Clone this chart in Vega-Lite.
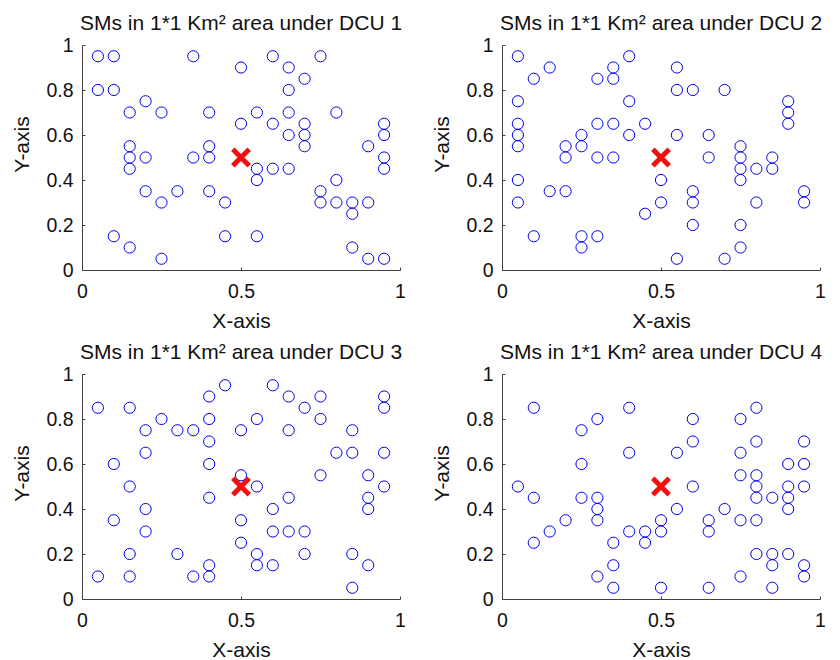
{
  "$schema": "https://vega.github.io/schema/vega-lite/v6.json",
  "background": "white",
  "padding": {"left": 11, "top": 13, "right": 5, "bottom": 0},
  "bounds": "flush",
  "columns": 2,
  "spacing": {"row": 104, "column": 102},
  "datasets": {
    "dcu": [{"dcu": 1, "x": 0.5, "y": 0.5}, {"dcu": 2, "x": 0.5, "y": 0.5}, {"dcu": 3, "x": 0.5, "y": 0.5}, {"dcu": 4, "x": 0.5, "y": 0.5}],
    "sm": [
      {"dcu":1,"x":0.05,"y":0.95},{"dcu":1,"x":0.1,"y":0.95},{"dcu":1,"x":0.35,"y":0.95},{"dcu":1,"x":0.6,"y":0.95},{"dcu":1,"x":0.75,"y":0.95},
      {"dcu":1,"x":0.5,"y":0.9},{"dcu":1,"x":0.65,"y":0.9},
      {"dcu":1,"x":0.7,"y":0.85},
      {"dcu":1,"x":0.05,"y":0.8},{"dcu":1,"x":0.1,"y":0.8},{"dcu":1,"x":0.65,"y":0.8},
      {"dcu":1,"x":0.2,"y":0.75},
      {"dcu":1,"x":0.15,"y":0.7},{"dcu":1,"x":0.25,"y":0.7},{"dcu":1,"x":0.4,"y":0.7},{"dcu":1,"x":0.55,"y":0.7},{"dcu":1,"x":0.65,"y":0.7},{"dcu":1,"x":0.8,"y":0.7},
      {"dcu":1,"x":0.5,"y":0.65},{"dcu":1,"x":0.6,"y":0.65},{"dcu":1,"x":0.7,"y":0.65},{"dcu":1,"x":0.95,"y":0.65},
      {"dcu":1,"x":0.65,"y":0.6},{"dcu":1,"x":0.7,"y":0.6},{"dcu":1,"x":0.95,"y":0.6},
      {"dcu":1,"x":0.15,"y":0.55},{"dcu":1,"x":0.4,"y":0.55},{"dcu":1,"x":0.7,"y":0.55},{"dcu":1,"x":0.9,"y":0.55},
      {"dcu":1,"x":0.15,"y":0.5},{"dcu":1,"x":0.2,"y":0.5},{"dcu":1,"x":0.35,"y":0.5},{"dcu":1,"x":0.4,"y":0.5},{"dcu":1,"x":0.95,"y":0.5},
      {"dcu":1,"x":0.15,"y":0.45},{"dcu":1,"x":0.55,"y":0.45},{"dcu":1,"x":0.6,"y":0.45},{"dcu":1,"x":0.65,"y":0.45},{"dcu":1,"x":0.95,"y":0.45},
      {"dcu":1,"x":0.55,"y":0.4},{"dcu":1,"x":0.8,"y":0.4},
      {"dcu":1,"x":0.2,"y":0.35},{"dcu":1,"x":0.3,"y":0.35},{"dcu":1,"x":0.4,"y":0.35},{"dcu":1,"x":0.75,"y":0.35},
      {"dcu":1,"x":0.25,"y":0.3},{"dcu":1,"x":0.45,"y":0.3},{"dcu":1,"x":0.75,"y":0.3},{"dcu":1,"x":0.8,"y":0.3},{"dcu":1,"x":0.85,"y":0.3},{"dcu":1,"x":0.9,"y":0.3},
      {"dcu":1,"x":0.85,"y":0.25},
      {"dcu":1,"x":0.1,"y":0.15},{"dcu":1,"x":0.45,"y":0.15},{"dcu":1,"x":0.55,"y":0.15},
      {"dcu":1,"x":0.15,"y":0.1},{"dcu":1,"x":0.85,"y":0.1},
      {"dcu":1,"x":0.25,"y":0.05},{"dcu":1,"x":0.9,"y":0.05},{"dcu":1,"x":0.95,"y":0.05},

      {"dcu":2,"x":0.05,"y":0.95},{"dcu":2,"x":0.4,"y":0.95},
      {"dcu":2,"x":0.15,"y":0.9},{"dcu":2,"x":0.35,"y":0.9},{"dcu":2,"x":0.55,"y":0.9},
      {"dcu":2,"x":0.1,"y":0.85},{"dcu":2,"x":0.3,"y":0.85},{"dcu":2,"x":0.35,"y":0.85},
      {"dcu":2,"x":0.55,"y":0.8},{"dcu":2,"x":0.6,"y":0.8},{"dcu":2,"x":0.7,"y":0.8},
      {"dcu":2,"x":0.05,"y":0.75},{"dcu":2,"x":0.4,"y":0.75},{"dcu":2,"x":0.9,"y":0.75},
      {"dcu":2,"x":0.9,"y":0.7},
      {"dcu":2,"x":0.05,"y":0.65},{"dcu":2,"x":0.3,"y":0.65},{"dcu":2,"x":0.35,"y":0.65},{"dcu":2,"x":0.45,"y":0.65},{"dcu":2,"x":0.9,"y":0.65},
      {"dcu":2,"x":0.05,"y":0.6},{"dcu":2,"x":0.25,"y":0.6},{"dcu":2,"x":0.4,"y":0.6},{"dcu":2,"x":0.55,"y":0.6},{"dcu":2,"x":0.65,"y":0.6},
      {"dcu":2,"x":0.05,"y":0.55},{"dcu":2,"x":0.2,"y":0.55},{"dcu":2,"x":0.25,"y":0.55},{"dcu":2,"x":0.75,"y":0.55},
      {"dcu":2,"x":0.2,"y":0.5},{"dcu":2,"x":0.3,"y":0.5},{"dcu":2,"x":0.35,"y":0.5},{"dcu":2,"x":0.65,"y":0.5},{"dcu":2,"x":0.75,"y":0.5},{"dcu":2,"x":0.85,"y":0.5},
      {"dcu":2,"x":0.75,"y":0.45},{"dcu":2,"x":0.8,"y":0.45},{"dcu":2,"x":0.85,"y":0.45},
      {"dcu":2,"x":0.05,"y":0.4},{"dcu":2,"x":0.5,"y":0.4},{"dcu":2,"x":0.75,"y":0.4},
      {"dcu":2,"x":0.15,"y":0.35},{"dcu":2,"x":0.2,"y":0.35},{"dcu":2,"x":0.6,"y":0.35},{"dcu":2,"x":0.95,"y":0.35},
      {"dcu":2,"x":0.05,"y":0.3},{"dcu":2,"x":0.5,"y":0.3},{"dcu":2,"x":0.6,"y":0.3},{"dcu":2,"x":0.8,"y":0.3},{"dcu":2,"x":0.95,"y":0.3},
      {"dcu":2,"x":0.45,"y":0.25},
      {"dcu":2,"x":0.6,"y":0.2},{"dcu":2,"x":0.75,"y":0.2},
      {"dcu":2,"x":0.1,"y":0.15},{"dcu":2,"x":0.25,"y":0.15},{"dcu":2,"x":0.3,"y":0.15},
      {"dcu":2,"x":0.25,"y":0.1},{"dcu":2,"x":0.75,"y":0.1},
      {"dcu":2,"x":0.55,"y":0.05},{"dcu":2,"x":0.7,"y":0.05},

      {"dcu":3,"x":0.45,"y":0.95},{"dcu":3,"x":0.6,"y":0.95},
      {"dcu":3,"x":0.4,"y":0.9},{"dcu":3,"x":0.65,"y":0.9},{"dcu":3,"x":0.75,"y":0.9},{"dcu":3,"x":0.95,"y":0.9},
      {"dcu":3,"x":0.05,"y":0.85},{"dcu":3,"x":0.15,"y":0.85},{"dcu":3,"x":0.7,"y":0.85},{"dcu":3,"x":0.95,"y":0.85},
      {"dcu":3,"x":0.25,"y":0.8},{"dcu":3,"x":0.4,"y":0.8},{"dcu":3,"x":0.55,"y":0.8},{"dcu":3,"x":0.75,"y":0.8},
      {"dcu":3,"x":0.2,"y":0.75},{"dcu":3,"x":0.3,"y":0.75},{"dcu":3,"x":0.35,"y":0.75},{"dcu":3,"x":0.5,"y":0.75},{"dcu":3,"x":0.65,"y":0.75},{"dcu":3,"x":0.85,"y":0.75},
      {"dcu":3,"x":0.4,"y":0.7},
      {"dcu":3,"x":0.2,"y":0.65},{"dcu":3,"x":0.8,"y":0.65},{"dcu":3,"x":0.85,"y":0.65},{"dcu":3,"x":0.95,"y":0.65},
      {"dcu":3,"x":0.1,"y":0.6},{"dcu":3,"x":0.4,"y":0.6},
      {"dcu":3,"x":0.5,"y":0.55},{"dcu":3,"x":0.75,"y":0.55},{"dcu":3,"x":0.9,"y":0.55},
      {"dcu":3,"x":0.15,"y":0.5},{"dcu":3,"x":0.55,"y":0.5},{"dcu":3,"x":0.95,"y":0.5},
      {"dcu":3,"x":0.4,"y":0.45},{"dcu":3,"x":0.65,"y":0.45},{"dcu":3,"x":0.9,"y":0.45},
      {"dcu":3,"x":0.2,"y":0.4},{"dcu":3,"x":0.6,"y":0.4},{"dcu":3,"x":0.9,"y":0.4},
      {"dcu":3,"x":0.1,"y":0.35},{"dcu":3,"x":0.5,"y":0.35},
      {"dcu":3,"x":0.2,"y":0.3},{"dcu":3,"x":0.6,"y":0.3},{"dcu":3,"x":0.65,"y":0.3},{"dcu":3,"x":0.7,"y":0.3},
      {"dcu":3,"x":0.5,"y":0.25},
      {"dcu":3,"x":0.15,"y":0.2},{"dcu":3,"x":0.3,"y":0.2},{"dcu":3,"x":0.55,"y":0.2},{"dcu":3,"x":0.7,"y":0.2},{"dcu":3,"x":0.85,"y":0.2},
      {"dcu":3,"x":0.4,"y":0.15},{"dcu":3,"x":0.55,"y":0.15},{"dcu":3,"x":0.6,"y":0.15},{"dcu":3,"x":0.9,"y":0.15},
      {"dcu":3,"x":0.05,"y":0.1},{"dcu":3,"x":0.15,"y":0.1},{"dcu":3,"x":0.35,"y":0.1},{"dcu":3,"x":0.4,"y":0.1},
      {"dcu":3,"x":0.85,"y":0.05},

      {"dcu":4,"x":0.1,"y":0.85},{"dcu":4,"x":0.4,"y":0.85},{"dcu":4,"x":0.8,"y":0.85},
      {"dcu":4,"x":0.3,"y":0.8},{"dcu":4,"x":0.6,"y":0.8},{"dcu":4,"x":0.75,"y":0.8},
      {"dcu":4,"x":0.25,"y":0.75},
      {"dcu":4,"x":0.6,"y":0.7},{"dcu":4,"x":0.8,"y":0.7},{"dcu":4,"x":0.95,"y":0.7},
      {"dcu":4,"x":0.4,"y":0.65},{"dcu":4,"x":0.55,"y":0.65},{"dcu":4,"x":0.75,"y":0.65},
      {"dcu":4,"x":0.25,"y":0.6},{"dcu":4,"x":0.9,"y":0.6},{"dcu":4,"x":0.95,"y":0.6},
      {"dcu":4,"x":0.75,"y":0.55},{"dcu":4,"x":0.8,"y":0.55},
      {"dcu":4,"x":0.05,"y":0.5},{"dcu":4,"x":0.6,"y":0.5},{"dcu":4,"x":0.8,"y":0.5},{"dcu":4,"x":0.9,"y":0.5},{"dcu":4,"x":0.95,"y":0.5},
      {"dcu":4,"x":0.1,"y":0.45},{"dcu":4,"x":0.25,"y":0.45},{"dcu":4,"x":0.3,"y":0.45},{"dcu":4,"x":0.8,"y":0.45},{"dcu":4,"x":0.85,"y":0.45},{"dcu":4,"x":0.9,"y":0.45},
      {"dcu":4,"x":0.3,"y":0.4},{"dcu":4,"x":0.55,"y":0.4},{"dcu":4,"x":0.7,"y":0.4},{"dcu":4,"x":0.9,"y":0.4},
      {"dcu":4,"x":0.2,"y":0.35},{"dcu":4,"x":0.3,"y":0.35},{"dcu":4,"x":0.5,"y":0.35},{"dcu":4,"x":0.65,"y":0.35},{"dcu":4,"x":0.75,"y":0.35},{"dcu":4,"x":0.8,"y":0.35},
      {"dcu":4,"x":0.15,"y":0.3},{"dcu":4,"x":0.4,"y":0.3},{"dcu":4,"x":0.45,"y":0.3},{"dcu":4,"x":0.5,"y":0.3},{"dcu":4,"x":0.65,"y":0.3},
      {"dcu":4,"x":0.1,"y":0.25},{"dcu":4,"x":0.35,"y":0.25},{"dcu":4,"x":0.45,"y":0.25},
      {"dcu":4,"x":0.8,"y":0.2},{"dcu":4,"x":0.85,"y":0.2},{"dcu":4,"x":0.9,"y":0.2},
      {"dcu":4,"x":0.35,"y":0.15},{"dcu":4,"x":0.85,"y":0.15},{"dcu":4,"x":0.95,"y":0.15},
      {"dcu":4,"x":0.3,"y":0.1},{"dcu":4,"x":0.75,"y":0.1},{"dcu":4,"x":0.95,"y":0.1},
      {"dcu":4,"x":0.35,"y":0.05},{"dcu":4,"x":0.5,"y":0.05},{"dcu":4,"x":0.65,"y":0.05},{"dcu":4,"x":0.85,"y":0.05}
    ]
  },
  "concat": [
    {
      "title": "SMs in 1*1 Km² area under DCU 1",
      "width": 318, "height": 225,
      "layer": [
        {"data": {"name": "sm"}, "transform": [{"filter": "datum.dcu == 1"}],
         "mark": {"type": "point", "shape": "circle", "filled": false, "size": 125, "strokeWidth": 1, "color": "#0000ee", "opacity": 1},
         "encoding": {
           "x": {"field": "x", "type": "quantitative", "scale": {"domain": [0, 1], "nice": false}, "axis": {"values": [0, 0.5, 1], "format": "~g", "title": "X-axis"}},
           "y": {"field": "y", "type": "quantitative", "scale": {"domain": [0, 1], "nice": false}, "axis": {"values": [0, 0.2, 0.4, 0.6, 0.8, 1], "format": "~g", "title": "Y-axis"}}}},
        {"data": {"name": "dcu"}, "transform": [{"filter": "datum.dcu == 1"}],
         "mark": {"type": "point", "shape": "M-1,-1L1,1M1,-1L-1,1", "filled": false, "size": 270, "strokeWidth": 5, "color": "#f01010", "opacity": 1},
         "encoding": {"x": {"field": "x", "type": "quantitative"}, "y": {"field": "y", "type": "quantitative"}}}
      ]
    },
    {
      "title": "SMs in 1*1 Km² area under DCU 2",
      "width": 318, "height": 225,
      "layer": [
        {"data": {"name": "sm"}, "transform": [{"filter": "datum.dcu == 2"}],
         "mark": {"type": "point", "shape": "circle", "filled": false, "size": 125, "strokeWidth": 1, "color": "#0000ee", "opacity": 1},
         "encoding": {
           "x": {"field": "x", "type": "quantitative", "scale": {"domain": [0, 1], "nice": false}, "axis": {"values": [0, 0.5, 1], "format": "~g", "title": "X-axis"}},
           "y": {"field": "y", "type": "quantitative", "scale": {"domain": [0, 1], "nice": false}, "axis": {"values": [0, 0.2, 0.4, 0.6, 0.8, 1], "format": "~g", "title": "Y-axis"}}}},
        {"data": {"name": "dcu"}, "transform": [{"filter": "datum.dcu == 2"}],
         "mark": {"type": "point", "shape": "M-1,-1L1,1M1,-1L-1,1", "filled": false, "size": 270, "strokeWidth": 5, "color": "#f01010", "opacity": 1},
         "encoding": {"x": {"field": "x", "type": "quantitative"}, "y": {"field": "y", "type": "quantitative"}}}
      ]
    },
    {
      "title": "SMs in 1*1 Km² area under DCU 3",
      "width": 318, "height": 225,
      "layer": [
        {"data": {"name": "sm"}, "transform": [{"filter": "datum.dcu == 3"}],
         "mark": {"type": "point", "shape": "circle", "filled": false, "size": 125, "strokeWidth": 1, "color": "#0000ee", "opacity": 1},
         "encoding": {
           "x": {"field": "x", "type": "quantitative", "scale": {"domain": [0, 1], "nice": false}, "axis": {"values": [0, 0.5, 1], "format": "~g", "title": "X-axis"}},
           "y": {"field": "y", "type": "quantitative", "scale": {"domain": [0, 1], "nice": false}, "axis": {"values": [0, 0.2, 0.4, 0.6, 0.8, 1], "format": "~g", "title": "Y-axis"}}}},
        {"data": {"name": "dcu"}, "transform": [{"filter": "datum.dcu == 3"}],
         "mark": {"type": "point", "shape": "M-1,-1L1,1M1,-1L-1,1", "filled": false, "size": 270, "strokeWidth": 5, "color": "#f01010", "opacity": 1},
         "encoding": {"x": {"field": "x", "type": "quantitative"}, "y": {"field": "y", "type": "quantitative"}}}
      ]
    },
    {
      "title": "SMs in 1*1 Km² area under DCU 4",
      "width": 318, "height": 225,
      "layer": [
        {"data": {"name": "sm"}, "transform": [{"filter": "datum.dcu == 4"}],
         "mark": {"type": "point", "shape": "circle", "filled": false, "size": 125, "strokeWidth": 1, "color": "#0000ee", "opacity": 1},
         "encoding": {
           "x": {"field": "x", "type": "quantitative", "scale": {"domain": [0, 1], "nice": false}, "axis": {"values": [0, 0.5, 1], "format": "~g", "title": "X-axis"}},
           "y": {"field": "y", "type": "quantitative", "scale": {"domain": [0, 1], "nice": false}, "axis": {"values": [0, 0.2, 0.4, 0.6, 0.8, 1], "format": "~g", "title": "Y-axis"}}}},
        {"data": {"name": "dcu"}, "transform": [{"filter": "datum.dcu == 4"}],
         "mark": {"type": "point", "shape": "M-1,-1L1,1M1,-1L-1,1", "filled": false, "size": 270, "strokeWidth": 5, "color": "#f01010", "opacity": 1},
         "encoding": {"x": {"field": "x", "type": "quantitative"}, "y": {"field": "y", "type": "quantitative"}}}
      ]
    }
  ],
  "config": {
    "view": {"stroke": null},
    "font": "Liberation Sans",
    "axis": {
      "grid": false,
      "domainColor": "#404040",
      "tickColor": "#404040",
      "tickSize": -3,
      "labelFont": "Liberation Sans",
      "labelFontSize": 19.5,
      "labelColor": "#111111",
      "labelFlush": false,
      "labelOverlap": false,
      "titleFont": "Liberation Sans",
      "titleFontSize": 21,
      "titleFontWeight": "normal",
      "titleColor": "#111111",
      "titleBaseline": "alphabetic"
    },
    "axisX": {"labelPadding": 15.5, "titleY": 57},
    "axisY": {"labelPadding": 12, "titleX": -54, "titleY": 99},
    "title": {"font": "Liberation Sans", "fontSize": 21, "fontWeight": "normal", "color": "#111111", "baseline": "alphabetic", "offset": 1, "frame": "group", "anchor": "middle"}
  }
}
